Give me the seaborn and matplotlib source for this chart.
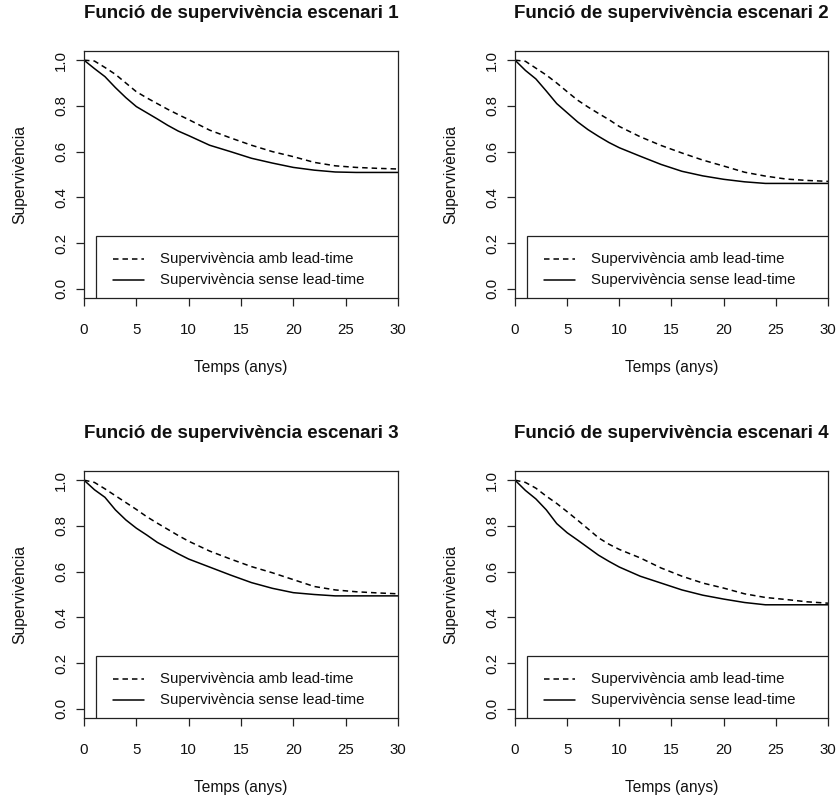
import numpy as np
import pandas as pd
import seaborn as sns
import matplotlib
matplotlib.use("Agg")
import matplotlib.pyplot as plt
from matplotlib.patches import Rectangle
from matplotlib.lines import Line2D

# Survival estimates (years since diagnosis) for the four simulated scenarios
temps = [0, 1, 2, 3, 4, 5, 6, 7, 8, 9, 10, 12, 14, 16, 18, 20, 22, 24, 26, 28, 30]

amb_lead_1 = [1.0, 0.996, 0.968, 0.938, 0.900, 0.862, 0.835, 0.810, 0.785, 0.762, 0.740,
              0.694, 0.660, 0.628, 0.600, 0.578, 0.553, 0.538, 0.531, 0.527, 0.524]
sense_lead_1 = [1.0, 0.963, 0.928, 0.880, 0.836, 0.797, 0.770, 0.743, 0.715, 0.690, 0.670,
                0.628, 0.600, 0.571, 0.550, 0.531, 0.519, 0.511, 0.509, 0.509, 0.509]

amb_lead_2 = [1.0, 0.995, 0.965, 0.935, 0.900, 0.862, 0.825, 0.795, 0.767, 0.740, 0.710,
              0.665, 0.627, 0.594, 0.563, 0.537, 0.510, 0.493, 0.480, 0.474, 0.470]
sense_lead_2 = [1.0, 0.955, 0.918, 0.865, 0.810, 0.770, 0.730, 0.696, 0.667, 0.640, 0.617,
                0.580, 0.544, 0.514, 0.494, 0.479, 0.468, 0.461, 0.461, 0.461, 0.461]

amb_lead_3 = [1.0, 0.990, 0.962, 0.932, 0.902, 0.872, 0.840, 0.812, 0.785, 0.758, 0.733,
              0.690, 0.655, 0.622, 0.595, 0.565, 0.535, 0.520, 0.512, 0.507, 0.503]
sense_lead_3 = [1.0, 0.958, 0.925, 0.870, 0.826, 0.790, 0.760, 0.728, 0.703, 0.678, 0.655,
                0.620, 0.585, 0.552, 0.527, 0.508, 0.500, 0.494, 0.494, 0.494, 0.494]

amb_lead_4 = [1.0, 0.990, 0.965, 0.930, 0.898, 0.862, 0.825, 0.787, 0.748, 0.720, 0.697,
              0.660, 0.616, 0.580, 0.550, 0.528, 0.503, 0.487, 0.478, 0.468, 0.462]
sense_lead_4 = [1.0, 0.955, 0.918, 0.870, 0.810, 0.770, 0.738, 0.705, 0.672, 0.645, 0.620,
                0.580, 0.550, 0.520, 0.497, 0.480, 0.465, 0.455, 0.455, 0.455, 0.455]

escenaris = [1, 2, 3, 4]
series_amb = [amb_lead_1, amb_lead_2, amb_lead_3, amb_lead_4]
series_sense = [sense_lead_1, sense_lead_2, sense_lead_3, sense_lead_4]

etiqueta_amb = "Supervivència amb lead-time"
etiqueta_sense = "Supervivència sense lead-time"

x_ticks = [0, 5, 10, 15, 20, 25, 30]
y_ticks = [0.0, 0.2, 0.4, 0.6, 0.8, 1.0]

sns.set_theme(style="ticks")
plt.rcParams["font.family"] = ["Liberation Sans", "DejaVu Sans"]
plt.rcParams["axes.edgecolor"] = "#222222"
plt.rcParams["axes.linewidth"] = 0.9

W, H = 837, 799
fig = plt.figure(figsize=(W / 100, H / 100), dpi=100)

# panel boxes in pixel coordinates: (left, top, right, bottom)
boxes = [(84, 51, 398, 298), (515, 51, 828, 298),
         (84, 471, 398, 718), (515, 471, 828, 718)]

dash_pat = (3.6, 2.6)

for esc, amb, sense, (l, t, r, b) in zip(escenaris, series_amb, series_sense, boxes):
    ax = fig.add_axes([l / W, 1 - b / H, (r - l) / W, (b - t) / H])
    df = pd.DataFrame({
        "temps": temps * 2,
        "supervivencia": amb + sense,
        "corba": [etiqueta_amb] * len(temps) + [etiqueta_sense] * len(temps),
    })
    sns.lineplot(data=df, x="temps", y="supervivencia", hue="corba", style="corba",
                 palette={etiqueta_amb: "black", etiqueta_sense: "black"},
                 dashes={etiqueta_amb: dash_pat, etiqueta_sense: ""},
                 linewidth=1.1, legend=False, ax=ax, estimator=None)

    ax.set_xlim(0, 30)
    ax.set_ylim(-0.04, 1.04)
    ax.set_xticks(x_ticks)
    ax.set_yticks(y_ticks)
    ax.set_xticklabels([str(v) for v in x_ticks])
    ax.set_yticklabels([f"{v:.1f}" for v in y_ticks], rotation=90, va="center")
    ax.tick_params(axis="both", length=6, width=0.9, color="#222222",
                   labelsize=10.8, labelcolor="#111111")
    ax.tick_params(axis="x", pad=12)
    ax.tick_params(axis="y", pad=5.5)
    for s in ax.spines.values():
        s.set_visible(True)
        s.set_color("#222222")

    ax.set_title(f"Funció de supervivència escenari {esc}", fontsize=13.5,
                 fontweight="bold", y=1.15, pad=0, va="center", color="#111111")
    ax.set_xlabel("Temps (anys)", fontsize=11.2, color="#111111")
    ax.xaxis.set_label_coords(0.5, -0.28)
    ax.xaxis.label.set_va("center")
    ax.set_ylabel("Supervivència", fontsize=11.3, color="#111111")
    ax.yaxis.set_label_coords(-0.204, 0.5)
    ax.yaxis.label.set_va("center")

    # legend box anchored at the lower-left, running off the plotting region
    ax.add_patch(Rectangle((1.15, -0.2), 40, 0.2325 + 0.2, fill=False,
                           edgecolor="#222222", linewidth=0.9, clip_on=True, zorder=3))
    for ly, ls in [(0.1316, (0, dash_pat)), (0.0395, "-")]:
        ax.add_line(Line2D([2.77, 5.73], [ly, ly], color="black", linewidth=1.1,
                           linestyle=ls, zorder=4))
    ax.text(7.26, 0.1316, etiqueta_amb, fontsize=10.8, va="center", ha="left",
            color="#111111")
    ax.text(7.26, 0.0395, etiqueta_sense, fontsize=10.8, va="center", ha="left",
            color="#111111")

fig.savefig("out.png", dpi=100, facecolor="white")
